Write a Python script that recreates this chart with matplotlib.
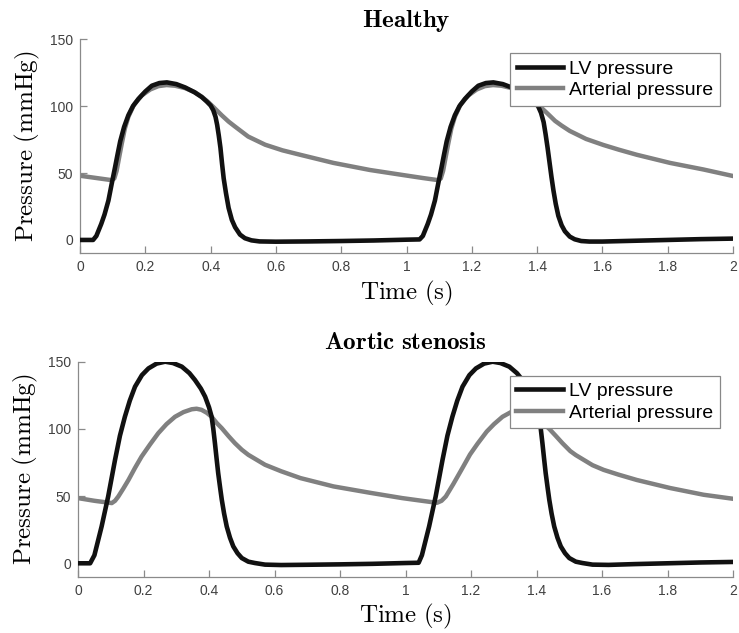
import numpy as np
import matplotlib
matplotlib.use("Agg")
import matplotlib.pyplot as plt

plt.rcParams['mathtext.fontset'] = 'cm'
plt.rcParams['font.family'] = ['Liberation Sans', 'DejaVu Sans']

# ---- Healthy: LV pressure ----
t_lv_h = [0.00, 0.04, 0.05, 0.065, 0.075, 0.087, 0.097, 0.107, 0.115, 0.123, 0.135, 0.148,
          0.162, 0.179, 0.20, 0.22, 0.243, 0.266, 0.295, 0.322, 0.35, 0.373, 0.388, 0.40,
          0.408, 0.415, 0.42, 0.425, 0.43, 0.435, 0.44, 0.447, 0.455, 0.465, 0.475, 0.49,
          0.505, 0.525, 0.55, 0.60, 0.70, 0.80, 0.90, 1.00, 1.04,
          1.05, 1.065, 1.075, 1.087, 1.097, 1.107, 1.115, 1.123, 1.135, 1.148,
          1.162, 1.179, 1.20, 1.22, 1.243, 1.266, 1.295, 1.322, 1.35, 1.373, 1.39, 1.403,
          1.412, 1.42, 1.426, 1.432, 1.438, 1.444, 1.45, 1.457, 1.465, 1.475, 1.485, 1.50,
          1.515, 1.535, 1.56, 1.60, 1.70, 1.80, 1.90, 2.00]
p_lv_h = [0.0, 0.0, 3.0, 12.0, 19.0, 29.5, 42.0, 54.0, 64.0, 73.7, 84.5, 93.2,
          100.0, 105.5, 111.0, 115.3, 117.3, 117.8, 116.5, 114.0, 110.5, 106.8, 103.5, 100.5,
          97.0, 92.0, 86.0, 78.0, 69.0, 57.0, 46.0, 35.0, 24.0, 15.0, 9.5, 4.0,
          1.3, -0.3, -1.1, -1.3, -1.1, -0.8, -0.4, 0.2, 0.4,
          3.0, 12.0, 19.0, 29.5, 42.0, 54.0, 64.0, 73.7, 84.5, 93.2,
          100.0, 105.5, 111.0, 115.3, 117.3, 117.8, 116.5, 114.0, 110.5, 106.8, 103.0, 100.0,
          95.0, 88.0, 79.0, 69.0, 58.0, 47.0, 37.0, 27.0, 18.0, 11.0, 6.5, 2.5,
          0.5, -0.8, -1.2, -1.2, -0.6, 0.0, 0.6, 1.0]

# ---- Healthy: arterial pressure ----
t_ar_h = [0.00, 0.05, 0.097, 0.105, 0.112, 0.12, 0.127, 0.137, 0.148, 0.165, 0.189, 0.215,
          0.24, 0.265, 0.291, 0.322, 0.352, 0.373, 0.393, 0.41, 0.434, 0.455, 0.475, 0.515,
          0.567, 0.62, 0.674, 0.776, 0.888, 0.99, 1.05, 1.097,
          1.105, 1.112, 1.12, 1.127, 1.137, 1.148, 1.165, 1.189, 1.215, 1.24, 1.265, 1.291,
          1.322, 1.352, 1.373, 1.393, 1.41, 1.434, 1.455, 1.475, 1.50, 1.55, 1.603, 1.65,
          1.705, 1.807, 1.909, 2.00]
p_ar_h = [48.0, 46.3, 44.7, 46.0, 51.6, 62.0, 71.0, 83.0, 92.0, 101.0, 108.0, 112.5,
          115.0, 115.8, 115.3, 113.5, 110.4, 107.0, 103.0, 99.0, 93.2, 88.5, 84.7, 77.3,
          71.2, 67.0, 63.7, 57.6, 52.3, 48.5, 46.3, 44.7,
          46.0, 51.6, 62.0, 71.0, 83.0, 92.0, 101.0, 108.0, 112.5, 115.0, 115.8, 115.3,
          113.5, 110.4, 107.0, 103.0, 99.5, 94.0, 89.0, 85.5, 81.5, 75.5, 71.0, 67.5,
          63.7, 57.6, 52.7, 47.8]

# ---- Aortic stenosis: LV pressure ----
t_lv_s = [0.00, 0.037, 0.05, 0.072, 0.092, 0.113, 0.128, 0.143, 0.158, 0.174, 0.195, 0.215,
          0.24, 0.266, 0.29, 0.317, 0.34, 0.357, 0.375, 0.388, 0.40, 0.408, 0.413, 0.418,
          0.423, 0.428, 0.434, 0.439, 0.446, 0.454, 0.464, 0.474, 0.487, 0.50, 0.52, 0.54,
          0.571, 0.62, 0.70, 0.80, 0.90, 1.00, 1.04,
          1.05, 1.072, 1.092, 1.113, 1.128, 1.143, 1.158, 1.174, 1.195, 1.215,
          1.24, 1.266, 1.29, 1.317, 1.34, 1.357, 1.375, 1.388, 1.40, 1.408, 1.413, 1.418,
          1.423, 1.428, 1.434, 1.439, 1.446, 1.454, 1.464, 1.474, 1.487, 1.50, 1.52, 1.54,
          1.571, 1.62, 1.70, 1.80, 1.90, 2.00]
p_lv_s = [0.0, 0.0, 6.0, 27.4, 49.7, 77.0, 95.0, 109.0, 121.0, 131.4, 140.0, 145.0,
          148.6, 150.0, 149.0, 146.3, 141.5, 136.4, 130.0, 124.0, 116.0, 109.0, 100.0, 89.4,
          78.0, 67.0, 56.0, 47.2, 37.0, 27.4, 19.0, 12.6, 7.5, 3.9, 1.2, 0.2,
          -1.0, -1.3, -1.1, -0.8, -0.4, 0.2, 0.4,
          6.0, 27.4, 49.7, 77.0, 95.0, 109.0, 121.0, 131.4, 140.0, 145.0,
          148.6, 150.0, 149.0, 146.3, 141.5, 136.4, 130.0, 124.0, 116.0, 109.0, 100.0, 89.4,
          78.0, 67.0, 56.0, 47.2, 37.0, 27.4, 19.0, 12.6, 7.5, 3.9, 1.2, 0.2,
          -1.0, -1.2, -0.6, 0.0, 0.6, 1.0]

# ---- Aortic stenosis: arterial pressure ----
t_ar_s = [0.00, 0.05, 0.103, 0.113, 0.123, 0.138, 0.154, 0.174, 0.194, 0.22, 0.245, 0.27,
          0.296, 0.322, 0.347, 0.362, 0.377, 0.393, 0.408, 0.423, 0.439, 0.46, 0.479, 0.50,
          0.52, 0.571, 0.62, 0.679, 0.78, 0.893, 0.99, 1.05, 1.096,
          1.11, 1.123, 1.146, 1.174, 1.197, 1.22, 1.248, 1.27, 1.296, 1.322, 1.347, 1.362,
          1.377, 1.393, 1.408, 1.421, 1.439, 1.46, 1.479, 1.503, 1.52, 1.571, 1.605, 1.65,
          1.706, 1.808, 1.91, 2.00]
p_ar_s = [48.5, 46.5, 44.8, 46.5, 49.7, 55.5, 62.0, 71.0, 79.4, 88.5, 96.8, 103.5,
          109.0, 112.5, 114.6, 115.0, 114.2, 112.0, 109.0, 104.5, 100.5, 94.5, 89.4, 84.5,
          80.7, 73.3, 68.5, 63.4, 57.2, 52.4, 48.5, 46.5, 45.0,
          46.5, 49.7, 59.0, 71.0, 81.0, 89.0, 98.0, 103.5, 109.0, 112.5, 114.6, 115.0,
          114.2, 112.0, 109.0, 104.0, 100.0, 94.5, 89.4, 83.5, 80.5, 73.0, 69.5, 66.0,
          62.0, 56.0, 51.0, 48.0]

panels = [
    ("Healthy", t_lv_h, p_lv_h, t_ar_h, p_ar_h),
    ("Aortic stenosis", t_lv_s, p_lv_s, t_ar_s, p_ar_s),
]
x_ticks = np.arange(0, 2.01, 0.2)
y_ticks = [0, 50, 100, 150]

fig = plt.figure(figsize=(7.39, 6.33), dpi=100)
axes = [fig.add_axes([0.1083, 0.5998, 0.8836, 0.3381]),
        fig.add_axes([0.1056, 0.0889, 0.8863, 0.3397])]

axis_gray = '#8a8a8a'
for ax, (title, t_lv, p_lv, t_ar, p_ar) in zip(axes, panels):
    ax.plot(t_lv, p_lv, color='#111111', lw=3.3, label='LV pressure',
            solid_joinstyle='round', zorder=3)
    ax.plot(t_ar, p_ar, color='#808080', lw=3.2, label='Arterial pressure',
            solid_joinstyle='round', zorder=2)
    ax.set_xlim(0, 2)
    ax.set_ylim(-10, 150)
    ax.set_xticks(x_ticks)
    ax.set_xticklabels(['%g' % round(v, 1) for v in x_ticks])
    ax.set_yticks(y_ticks)
    for s in ['top', 'right']:
        ax.spines[s].set_visible(False)
    for s in ['left', 'bottom']:
        ax.spines[s].set_color(axis_gray)
        ax.spines[s].set_linewidth(0.9)
    ax.tick_params(direction='in', length=5, width=0.9, color=axis_gray,
                   labelsize=10, labelcolor='#404040', pad=5)
    ax.set_title(r'$\mathbf{' + title.replace(' ', r'\ ') + '}$', fontsize=18, pad=9)
    ax.set_xlabel(r'$\mathrm{Time\ (s)}$', fontsize=18, labelpad=3)
    ax.set_ylabel(r'$\mathrm{Pressure\ (mmHg)}$', fontsize=18)
    ax.yaxis.set_label_coords(-0.058, 0.5)
    leg = ax.legend(loc='upper right', bbox_to_anchor=(0.98, 0.935), fontsize=14,
                    frameon=True, fancybox=False, framealpha=1, edgecolor='#888888',
                    handlelength=2.4, handletextpad=0.3, labelspacing=0.2,
                    borderpad=0.35, borderaxespad=0)
    leg.get_frame().set_linewidth(0.9)

fig.savefig('out.png', dpi=100)
